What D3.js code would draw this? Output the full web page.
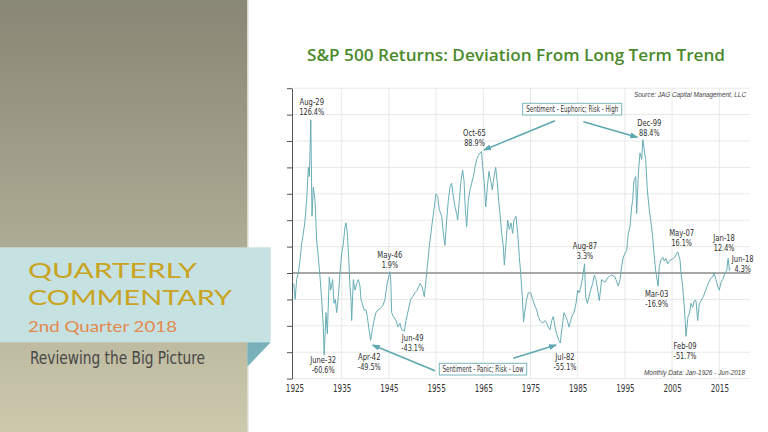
<!DOCTYPE html>
<html><head><meta charset="utf-8">
<script src="https://cdn.jsdelivr.net/npm/d3@7"></script>
<style>
html,body{margin:0;padding:0;background:#fff;}
svg{display:block;}
</style></head><body>
<svg id="c" width="768" height="432"></svg>
<script>
// ---------------- DATA ----------------
const months = [
1926.00,1926.30,1926.62,1926.98,1927.33,1927.68,1928.04,1928.39,1928.74,1929.10,1929.31,1929.62,1929.87,
1930.15,1930.51,1930.86,1931.21,1931.57,1931.92,1932.27,1932.45,1932.84,1933.12,1933.54,1933.83,1934.25,
1934.53,1934.82,1935.10,1935.45,1935.81,1936.16,1936.51,1936.86,1937.08,1937.36,1937.64,1937.92,1938.14,
1938.28,1938.63,1938.98,1939.34,1939.69,1940.04,1940.25,1940.54,1940.89,1941.31,1941.60,1941.88,1942.29,
1942.65,1943.01,1943.43,1943.86,1944.28,1944.85,1945.34,1945.69,1946.37,1946.55,1946.75,1947.10,1947.67,
1948.09,1948.52,1948.87,1949.45,1949.79,1950.28,1950.78,1951.20,1951.69,1952.19,1952.75,1953.18,1953.67,
1954.03,1954.31,1954.73,1955.23,1955.72,1956.14,1956.50,1956.85,1957.34,1957.70,1958.05,1958.40,1958.76,
1959.11,1959.46,1959.82,1960.17,1960.52,1960.73,1961.09,1961.44,1961.79,1962.08,1962.36,1962.64,1962.99,
1963.35,1963.70,1964.05,1964.41,1964.76,1965.11,1965.47,1965.79,1966.03,1966.38,1966.67,1967.02,1967.37,
1967.73,1968.08,1968.43,1968.79,1969.14,1969.42,1969.70,1970.06,1970.41,1970.62,1970.97,1971.33,1971.68,
1972.03,1972.39,1972.67,1973.09,1973.45,1973.80,1974.08,1974.43,1974.70,1975.00,1975.35,1975.71,1976.20,
1976.62,1977.12,1977.47,1977.82,1978.18,1978.74,1979.24,1979.59,1979.94,1980.30,1980.65,1981.00,1981.36,
1981.71,1982.13,1982.50,1982.68,1982.98,1983.26,1983.62,1983.97,1984.32,1984.68,1985.03,1985.38,1985.81,
1986.16,1986.51,1986.86,1987.22,1987.62,1987.85,1988.21,1988.56,1988.91,1989.34,1989.69,1990.04,1990.40,
1990.75,1991.24,1991.95,1992.65,1993.36,1994.07,1994.77,1995.13,1995.48,1995.83,1996.19,1996.54,1996.89,
1997.25,1997.60,1997.81,1998.09,1998.45,1998.66,1999.01,1999.36,1999.72,1999.96,2000.28,2000.57,2000.92,
2001.27,2001.63,2001.98,2002.33,2002.68,2003.20,2003.46,2003.81,2004.17,2004.52,2004.87,2005.23,2005.58,
2005.93,2006.43,2006.78,2007.13,2007.37,2007.84,2008.05,2008.40,2008.76,2008.96,2009.12,2009.53,2009.82,
2010.17,2010.52,2010.87,2011.23,2011.58,2011.94,2012.29,2012.78,2013.28,2013.84,2014.34,2014.76,2015.04,
2015.47,2015.82,2016.17,2016.53,2016.88,2017.23,2017.73,2018.04,2018.31,2018.46
];
const deviation = [
-8,-20,-5,0,10,22,30,40,55,80,73,116,43,
65,55,25,12,-3,-20,-41,-62,-30,-46,-3,-13,-5,
-23,-20,-30,-18,0,15,22,35,38,30,12,-10,-20,
-36,-5,-13,-8,-5,-10,-20,-23,-28,-28,-33,-41,-51,
-43,-36,-30,-28,-27,-25,-20,-10,1,-5,-30,-33,-36,
-41,-38,-43,-44,-36,-28,-20,-18,-15,-13,-8,-10,-18,
-5,5,20,35,48,60,58,48,43,30,21,40,55,
65,68,58,50,45,40,55,70,78,70,48,35,55,
63,68,73,80,86,89,91,92,80,68,50,65,77,
70,63,73,80,68,55,45,30,20,6,22,40,33,
38,30,40,43,30,12,0,-18,-37,-28,-20,-15,-15,
-20,-25,-28,-33,-36,-38,-36,-38,-41,-43,-36,-33,-41,
-46,-51,-53,-46,-38,-30,-33,-36,-41,-36,-32,-30,-23,
-13,-15,-10,-3,7,-18,-23,-18,-13,-8,-1.5,-5,-13,
-21,-5,-7,-3,-1.5,-3,-10,-5,5,12,15,17,30,
35,50,55,70,73,45,75,91,86,101,93,86,63,
50,40,30,15,2,-10,5,10,12,9,11,7,9,
10,11,12,15,16,10,0,-10,-26,-38,-48,-33,-31,
-23,-26,-21,-21,-36,-23,-21,-18,-13,-8,-4,-3,0,
-5,-10,-13,-7,-5,-1.5,2,11,2,3.5
];
const xTickYears = [1925,1935,1945,1955,1965,1975,1985,1995,2005,2015];
const yTickValues = [-80,-60,-40,-20,0,20,40,60,80,100,120,140];

const peakNames  = ["Aug-29","Oct-65","Dec-99","June-32","Apr-42","May-46","Jun-49","Jul-82","Aug-87","Mar-03","May-07","Feb-09","Jan-18","Jun-18"];
const peakLabels = ["126.4%","88.9%","88.4%","-60.6%","-49.5%","1.9%","-43.1%","-55.1%","3.3%","-16.9%","16.1%","-51.7%","12.4%","4.3%"];
const peakDates  = [1929.62,1965.79,1999.96,1932.45,1942.29,1946.37,1949.45,1982.50,1987.62,2003.20,2007.37,2009.12,2018.04,2018.46];
const peakValues = [116,92,101,-62,-51,1,-44,-53,7,-10,16,-48,11,3.5];

const sentimentLabels = ["Sentiment - Euphoric; Risk - High","Sentiment - Panic; Risk - Low"];
const chartTitle = "S&P 500 Returns: Deviation From Long Term Trend";
const sourceText = "Source: JAG Capital Management, LLC";
const noteText = "Monthly Data: Jan-1926 - Jun-2018";

// ---------------- LAYOUT ----------------
// label offsets (dx, dy of first line) relative to each peak point; second line is 10px lower
const peakOffsets = [
  [1,-18],[-7,-19],[6.5,-16.5],[-1,5],[-1.3,16.5],[0,-17],[8.3,7],
  [4.6,13.5],[0.4,-18],[-1.4,8],[3.9,-19.2],[-1,9.5],[-4,-20.2],[12.6,-9.3]
];
const lineGap = 10;
const boxes = [
  {x:522.7,y:103.3,w:99,h:11.7,tw:92},
  {x:439.3,y:363.3,w:87.4,h:11.7,tw:81}
];
// arrows: start point (px), target peak index and offset
const arrows = [
  {sx:555,sy:120.7,peak:1,dx:2.5,dy:-1.6},
  {sx:583.3,sy:121.7,peak:2,dx:-5.5,dy:-2.4},
  {sx:435,sy:370.7,peak:4,dx:2,dy:4.7},
  {sx:513.3,sy:358.3,peak:7,dx:-4.4,dy:2}
];

const narrow = '"Liberation Sans Narrow","DejaVu Sans Condensed","Arial Narrow",sans-serif';
const svg = d3.select("#c");

function fitText(sel, w){ sel.attr("textLength", w).attr("lengthAdjust","spacingAndGlyphs"); }
function condense(sel, f){ sel.each(function(){ const w=this.getComputedTextLength(); this.setAttribute("textLength", w*f); this.setAttribute("lengthAdjust","spacingAndGlyphs"); }); }

// ---------------- LEFT PANEL ----------------
const defs = svg.append("defs");
const g1 = defs.append("linearGradient").attr("id","pg").attr("x1",0).attr("y1",0).attr("x2",0).attr("y2",1);
g1.append("stop").attr("offset","0%").attr("stop-color","#898775");
g1.append("stop").attr("offset","50%").attr("stop-color","#a9a790");
g1.append("stop").attr("offset","100%").attr("stop-color","#ccc9ad");
svg.append("rect").attr("x",0).attr("y",0).attr("width",247).attr("height",432).attr("fill","url(#pg)");
svg.append("rect").attr("x",247).attr("y",0).attr("width",1.5).attr("height",432).attr("fill","#dcdacb");
svg.append("rect").attr("x",0).attr("y",247.3).attr("width",270.7).attr("height",95).attr("fill","#c6e1e2");
svg.append("path").attr("d","M247.3,342.3L270.7,342.3L247.3,366.7Z").attr("fill","#78b1b9");

svg.append("text").attr("x",28).attr("y",278.3).text("QUARTERLY")
  .attr("font-family","Lato,'Open Sans',sans-serif").attr("font-weight",400).attr("font-size",21).attr("fill","#c9a41f").call(fitText,169);
svg.append("text").attr("x",28).attr("y",305).text("COMMENTARY")
  .attr("font-family","Lato,'Open Sans',sans-serif").attr("font-weight",400).attr("font-size",21).attr("fill","#c9a41f").call(fitText,204);
svg.append("text").attr("x",28).attr("y",332.3).text("2nd Quarter 2018")
  .attr("font-family","Lato,'Open Sans',sans-serif").attr("font-weight",400).attr("font-size",14.5).attr("fill","#e3894c").call(fitText,149);
svg.append("text").attr("x",30).attr("y",364).text("Reviewing the Big Picture")
  .attr("font-family",narrow).attr("font-size",17.5).attr("fill","#474747").call(fitText,175);

// ---------------- CHART ----------------
const x = d3.scaleLinear().domain([1925,2015]).range([289,713.8]);
const y = d3.scaleLinear().domain([-80,140]).range([378.6,88.2]);
const plotL = 292, plotR = 750, axisShift = 5.5;

svg.append("text").attr("x",307).attr("y",61).text(chartTitle)
  .attr("font-family","'Open Sans',Lato,sans-serif").attr("font-weight",600).attr("font-size",16).attr("fill","#4b8a2c").call(fitText,418);

const grid = svg.append("g");
grid.selectAll("line.h").data(yTickValues).join("line")
  .attr("x1",plotL).attr("x2",plotR).attr("y1",d=>y(d)).attr("y2",d=>y(d))
  .attr("stroke","#e7e9e9").attr("stroke-width",1);
grid.selectAll("line.v").data(xTickYears.slice(1)).join("line")
  .attr("x1",d=>x(d)+axisShift).attr("x2",d=>x(d)+axisShift).attr("y1",y(140)).attr("y2",y(-80))
  .attr("stroke","#e7e9e9").attr("stroke-width",1);

svg.append("line").attr("x1",plotL).attr("x2",plotR).attr("y1",y(0)).attr("y2",y(0))
  .attr("stroke","#8e8e8e").attr("stroke-width",1.6);

const pts = months.map((m,i)=>[m,deviation[i]]);
svg.append("path").datum(pts)
  .attr("d", d3.line().x(d=>x(d[0])).y(d=>y(d[1])))
  .attr("fill","none").attr("stroke","#68adb6").attr("stroke-width",1).attr("stroke-linejoin","round");

const ya = svg.append("g").attr("transform",`translate(${plotL},0)`)
  .call(d3.axisLeft(y).tickValues(yTickValues).tickSize(5).tickSizeOuter(0).tickFormat(""));
ya.select(".domain").attr("stroke","#555");
ya.selectAll(".tick line").attr("stroke","#555");

const xa = svg.append("g").attr("transform",`translate(${axisShift},${y(-80)})`)
  .call(d3.axisBottom(x).tickValues(xTickYears).tickFormat(d3.format("d")).tickSize(0).tickPadding(6));
xa.select(".domain").remove();
xa.selectAll("text").attr("font-family",narrow).attr("font-size",10).attr("fill","#333").call(condense,0.8);

svg.append("text").attr("x",746).attr("y",97).attr("text-anchor","end").text(sourceText)
  .attr("font-family","'Liberation Sans',Arial,sans-serif").attr("font-style","italic").attr("font-size",7).attr("fill","#444").call(fitText,112);
svg.append("text").attr("x",745).attr("y",375).attr("text-anchor","end").text(noteText)
  .attr("font-family","'Liberation Sans',Arial,sans-serif").attr("font-style","italic").attr("font-size",7).attr("fill","#444").call(fitText,101);

// peak labels
const pl = svg.append("g").attr("font-family",narrow).attr("font-size",9).attr("fill","#2e2e2e").attr("text-anchor","middle");
peakNames.forEach((n,i)=>{
  const px = x(peakDates[i]), py = y(peakValues[i]), o = peakOffsets[i];
  pl.append("text").attr("x",px+o[0]).attr("y",py+o[1]).attr("dy","0.35em").text(n).call(condense,0.84);
  pl.append("text").attr("x",px+o[0]).attr("y",py+o[1]+lineGap).attr("dy","0.35em").text(peakLabels[i]).call(condense,0.8);
});

// arrows
defs.append("marker").attr("id","ah").attr("markerUnits","userSpaceOnUse").attr("markerWidth",8).attr("markerHeight",6)
  .attr("refX",7).attr("refY",3).attr("orient","auto")
  .append("path").attr("d","M0,0L8,3L0,6Z").attr("fill","#5ea8b1");
arrows.forEach(a=>{
  const tx = x(peakDates[a.peak])+a.dx, ty = y(peakValues[a.peak])+a.dy;
  svg.append("line").attr("x1",a.sx).attr("y1",a.sy).attr("x2",tx).attr("y2",ty)
    .attr("stroke","#5ea8b1").attr("stroke-width",1.5).attr("marker-end","url(#ah)");
});

// sentiment boxes
boxes.forEach((b,i)=>{
  svg.append("rect").attr("x",b.x).attr("y",b.y).attr("width",b.w).attr("height",b.h)
    .attr("fill","#fff").attr("stroke","#79b4bc").attr("stroke-width",1);
  svg.append("text").attr("x",b.x+b.w/2).attr("y",b.y+b.h/2).attr("dy","0.35em").attr("text-anchor","middle")
    .text(sentimentLabels[i]).attr("font-family",narrow).attr("font-size",8.5).attr("fill","#333").call(fitText,b.tw);
});
</script>
</body></html>
